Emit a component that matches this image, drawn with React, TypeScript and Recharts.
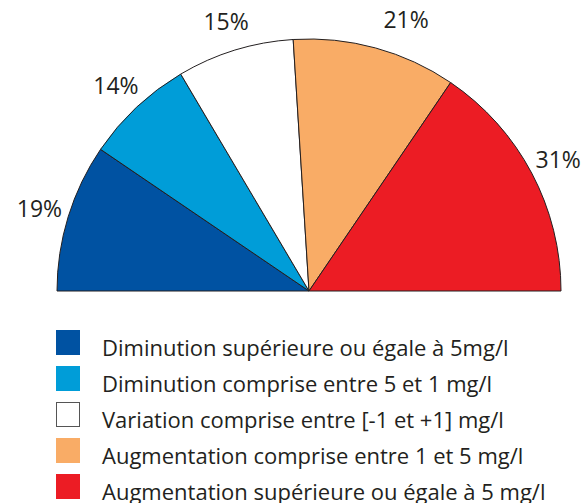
import { PieChart, Pie, Cell, Legend } from "recharts";

const categories = [
  "Diminution supérieure ou égale à 5mg/l",
  "Diminution comprise entre 5 et 1 mg/l",
  "Variation comprise entre [-1 et +1] mg/l",
  "Augmentation comprise entre 1 et 5 mg/l",
  "Augmentation supérieure ou égale à 5 mg/l",
];
const shares = [19, 14, 15, 21, 31];
const colors = ["#0052a2", "#009dd8", "#ffffff", "#f9ac66", "#ec1c24"];

const data = categories.map((name, i) => ({ name, value: shares[i] }));

const RAD = Math.PI / 180;
const FONT = "'Open Sans', 'Noto Sans', sans-serif";

function renderLabel(props: any) {
  const { cx, cy, midAngle, outerRadius, value } = props;
  const r = outerRadius + 30;
  const cos = Math.cos(-midAngle * RAD);
  const x = cx + r * cos;
  const y = cy + r * Math.sin(-midAngle * RAD);
  // labels just right of the top sit to the right of their anchor point
  const anchor = cos > 0.1 && cos < 0.5 ? "start" : "middle";
  return (
    <text x={x} y={y} fill="#231f20" fontSize={23} fontFamily={FONT} textAnchor={anchor} dominantBaseline="central">
      {value}%
    </text>
  );
}

function LegendBox() {
  return (
    <div style={{ fontFamily: FONT }}>
      {data.map((d, i) => (
        <div key={d.name} style={{ display: "flex", alignItems: "flex-start", height: 36 }}>
          <div
            style={{
              width: 24,
              height: 25,
              boxSizing: "border-box",
              background: colors[i],
              border: `1px solid ${i === 2 ? "#555" : colors[i]}`,
              flexShrink: 0,
            }}
          />
          <span style={{ marginLeft: 22, fontSize: 22, lineHeight: "22px", color: "#231f20", paddingTop: 6, whiteSpace: "nowrap" }}>
            {d.name}
          </span>
        </div>
      ))}
    </div>
  );
}

export default function App() {
  return (
    <div style={{ position: "absolute", left: 0, top: 0, width: 582, height: 503, background: "#fff", overflow: "hidden" }}>
      <PieChart width={582} height={503} margin={{ top: 0, right: 0, bottom: 0, left: 0 }}>
        <Pie
          data={data}
          dataKey="value"
          cx={309}
          cy={291}
          outerRadius={252}
          innerRadius={0}
          startAngle={180}
          endAngle={0}
          stroke="#231f20"
          strokeWidth={1}
          label={renderLabel}
          labelLine={false}
          isAnimationActive={false}
        >
          {data.map((d, i) => (
            <Cell key={d.name} fill={colors[i]} />
          ))}
        </Pie>
        <Legend
          content={<LegendBox />}
          wrapperStyle={{ position: "absolute", left: 56, top: 330, width: 520, bottom: "auto" }}
        />
      </PieChart>
    </div>
  );
}
